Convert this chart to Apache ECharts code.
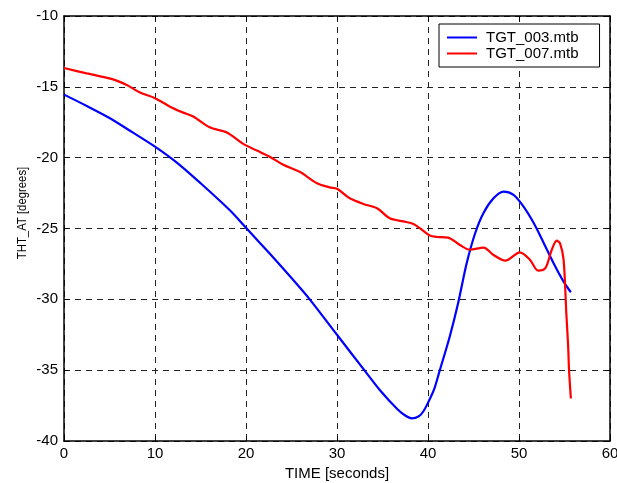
<!DOCTYPE html>
<html>
<head>
<meta charset="utf-8">
<script src="https://cdn.jsdelivr.net/npm/echarts@6/dist/echarts.min.js"></script>
<style>
html,body{margin:0;padding:0;background:#fff;overflow:hidden;}
#c{width:617px;height:483px;}
</style>
</head>
<body>
<div id="c"></div>
<script>
// Data
const seriesNames = ['TGT_003.mtb', 'TGT_007.mtb'];
const xTicks = [0, 10, 20, 30, 40, 50, 60];
const yTicks = [-40, -35, -30, -25, -20, -15, -10];
const xTitle = 'TIME [seconds]';
const yTitle = 'THT_AT [degrees]';

const t003 = [0, 2.5, 5, 7.5, 10, 12.5, 15, 18.2, 20, 22.5, 25, 27, 30, 33, 34.7, 36.7, 37.5, 38.2, 39, 39.5, 40, 40.7, 41.3, 42.4, 43.3, 44.25, 45.2, 46.1, 47.2, 48.3, 49.4, 50.5, 51.6, 52.7, 53.8, 54.9, 55.7];
const v003 = [-15.55, -16.35, -17.2, -18.2, -19.22, -20.4, -21.8, -23.7, -24.95, -26.7, -28.5, -30.0, -32.5, -35.0, -36.4, -37.8, -38.2, -38.4, -38.25, -37.9, -37.3, -36.3, -35.0, -32.6, -30.3, -27.45, -25.3, -23.9, -22.87, -22.4, -22.63, -23.46, -24.6, -26.0, -27.45, -28.75, -29.5];

const t007 = [0, 2.5, 5.4, 6.9, 8.35, 10, 11.65, 13.1, 14.2, 16.0, 17.9, 19.7, 21.2, 22.6, 24.1, 25.9, 27.8, 29.2, 30, 31.4, 32.9, 34.4, 35.8, 37.3, 38.4, 39.1, 40.2, 41.0, 42.2, 43.5, 44.6, 46.1, 47.2, 48.5, 50.1, 51.2, 52.1, 52.9, 53.6, 54.15, 54.5, 54.9, 55.2, 55.4, 55.5, 55.7];
const v007 = [-13.67, -14.05, -14.47, -14.87, -15.4, -15.8, -16.4, -16.82, -17.1, -17.86, -18.23, -19.03, -19.5, -19.93, -20.5, -21.0, -21.8, -22.1, -22.2, -22.87, -23.27, -23.57, -24.28, -24.5, -24.68, -24.98, -25.5, -25.6, -25.64, -26.16, -26.5, -26.35, -26.87, -27.27, -26.68, -27.2, -27.97, -27.8, -26.5, -25.86, -26.04, -27.2, -30.98, -33.3, -35.0, -37.0];

const zip = (a, b) => a.map((x, i) => [x, b[i]]);
const FONT = 'Liberation Sans, Arial, sans-serif';

const chart = echarts.init(document.getElementById('c'), null, {renderer: 'canvas', width: 617, height: 483});
const gridStyle = {show: true, lineStyle: {color: '#222', type: [6, 5], width: 1}};
chart.setOption({
  animation: false,
  backgroundColor: '#fff',
  grid: {left: 64, right: 7, top: 16, bottom: 42, containLabel: false, outerBoundsMode: 'none'},
  graphic: [{
    type: 'text', x: 22, y: 213, rotation: Math.PI / 2, scaleX: 0.84, scaleY: 1,
    style: {text: yTitle, fontFamily: FONT, fontSize: 13.5, fill: '#000', align: 'center', verticalAlign: 'middle'}
  }],
  legend: {
    orient: 'vertical', left: 439, top: 24,
    data: seriesNames,
    backgroundColor: '#fff', borderColor: '#000', borderWidth: 1,
    padding: [6, 21, 6, 8], itemGap: 1, itemWidth: 30, itemHeight: 14,
    textStyle: {fontFamily: FONT, fontSize: 15, color: '#000', padding: [0, 0, 0, 4]},
    icon: 'path://M0,6 L30,6 L30,8 L0,8 Z'
  },
  xAxis: [{
    type: 'value', min: xTicks[0], max: xTicks[xTicks.length - 1], interval: 10,
    name: xTitle, nameLocation: 'middle', nameGap: 25,
    nameTextStyle: {fontFamily: FONT, fontSize: 15, color: '#000'},
    axisLine: {show: true, onZero: false, lineStyle: {color: '#000', width: 1.5}},
    axisTick: {show: true, inside: true, length: 5, lineStyle: {color: '#000'}},
    axisLabel: {fontFamily: FONT, fontSize: 15, color: '#000', margin: 5},
    splitLine: gridStyle
  }, {
    type: 'value', position: 'top', min: 0, max: 60, interval: 10,
    axisLine: {show: true, onZero: false, lineStyle: {color: '#000', width: 1.5}},
    axisTick: {show: true, inside: true, length: 5, lineStyle: {color: '#000'}},
    axisLabel: {show: false}, splitLine: {show: false}
  }],
  yAxis: [{
    type: 'value', min: yTicks[0], max: yTicks[yTicks.length - 1], interval: 5,
    axisLine: {show: true, onZero: false, lineStyle: {color: '#000', width: 1.5}},
    axisTick: {show: true, inside: true, length: 5, lineStyle: {color: '#000'}},
    axisLabel: {fontFamily: FONT, fontSize: 15, color: '#000', margin: 6},
    splitLine: gridStyle
  }, {
    type: 'value', position: 'right', min: -40, max: -10, interval: 5,
    axisLine: {show: true, onZero: false, lineStyle: {color: '#000', width: 1.5}},
    axisTick: {show: true, inside: true, length: 5, lineStyle: {color: '#000'}},
    axisLabel: {show: false}, splitLine: {show: false}
  }],
  series: [{
    name: seriesNames[0], type: 'line', data: zip(t003, v003),
    smooth: 0.3, showSymbol: false, symbol: 'none',
    lineStyle: {color: '#0000ff', width: 2.2}, itemStyle: {color: '#0000ff'}
  }, {
    name: seriesNames[1], type: 'line', data: zip(t007, v007),
    smooth: 0.3, showSymbol: false, symbol: 'none',
    lineStyle: {color: '#ff0000', width: 2.2}, itemStyle: {color: '#ff0000'}
  }]
});
</script>
</body>
</html>
